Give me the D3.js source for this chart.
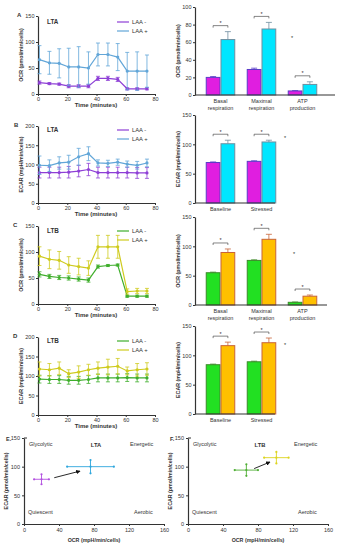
<!DOCTYPE html>
<html>
<head>
<meta charset="utf-8">
<script src="https://cdnjs.cloudflare.com/ajax/libs/d3/7.8.5/d3.min.js"></script>
<style>
  body { margin: 0; background: #fff; }
  svg { display: block; font-family: "Liberation Sans", Arial, sans-serif; }
  .tick text { fill: #333; }
</style>
</head>
<body>
<div id="chart"></div>
<script>
/* ---- data ---- */
// time course (minutes)
var times = [1, 7.8, 14.5, 21, 27.8, 34.5, 41, 47.8, 54.5, 61, 67.8, 74.5];
var timeTicks = [0, 20, 40, 60, 80];
var seriesNames = ["LAA -", "LAA +"];

// A: OCR, LTA
var ocrLtaMinus    = [22, 20, 19, 15, 15, 15, 30, 30, 28, 10, 10, 10];
var ocrLtaMinusErr = [3, 2, 2, 3, 3, 3, 4, 4, 4, 2, 2, 2];
var ocrLtaPlus     = [66, 60, 59, 52, 52, 50, 76, 76, 71, 44, 44, 44];
var ocrLtaPlusErr  = [27, 22, 28, 36, 39, 31, 22, 22, 26, 36, 37, 31];

// B: ECAR, LTA
var ecarLtaMinus    = [79, 79, 79, 80, 83, 87, 79, 79, 79, 79, 78, 78];
var ecarLtaMinusErr = [14, 14, 14, 15, 15, 16, 14, 14, 14, 14, 14, 14];
var ecarLtaPlus     = [98, 97, 104, 106, 120, 128, 104, 103, 106, 101, 98, 104];
var ecarLtaPlusErr  = [24, 15, 16, 18, 22, 18, 8, 8, 8, 8, 10, 10];

// C: OCR, LTB
var ocrLtbMinus    = [57, 53, 51, 50, 48, 46, 72, 74, 75, 15, 15, 15];
var ocrLtbMinusErr = [5, 4, 4, 4, 4, 4, 3, 2, 2, 2, 2, 2];
var ocrLtbPlus     = [92, 86, 84, 75, 72, 69, 110, 110, 110, 24, 25, 25];
var ocrLtbPlusErr  = [18, 18, 17, 16, 16, 14, 22, 22, 22, 5, 5, 5];

// D: ECAR, LTB
var ecarLtbMinus    = [92, 91, 91, 89, 89, 91, 95, 95, 95, 96, 95, 95];
var ecarLtbMinusErr = [10, 10, 10, 10, 10, 10, 10, 10, 10, 10, 10, 10];
var ecarLtbPlus     = [118, 116, 120, 106, 110, 116, 120, 123, 125, 113, 116, 118];
var ecarLtbPlusErr  = [18, 16, 16, 10, 16, 14, 16, 20, 20, 10, 16, 16];

// bar summaries
var ocrCats  = ["Basal respiration", "Maximal respiration", "ATP production"];
var ecarCats = ["Baseline", "Stressed"];
var barOcrLtaMinus = [20, 29, 4.6],  barOcrLtaMinusErr = [1, 1.5, 0.5];
var barOcrLtaPlus  = [63, 75, 12],   barOcrLtaPlusErr  = [9, 7.5, 3];
var barEcarLtaMinus = [69, 71],      barEcarLtaMinusErr = [1, 1];
var barEcarLtaPlus  = [101, 104],    barEcarLtaPlusErr  = [6, 3];
var barOcrLtbMinus = [55, 76, 4.6],  barOcrLtbMinusErr = [1, 1, 0.5];
var barOcrLtbPlus  = [89.5, 112, 15], barOcrLtbPlusErr = [6, 8.5, 2];
var barEcarLtbMinus = [84, 89],      barEcarLtbMinusErr = [1, 1];
var barEcarLtbPlus  = [116.5, 121.5], barEcarLtbPlusErr = [6, 8];

// energy maps (LAA -, LAA +)
var energyLtaOcr = [20, 76],     energyLtaOcrErr = [8.5, 26.7];
var energyLtaEcar = [78, 100],   energyLtaEcarErr = [8.7, 11.6];
var energyLtbOcr = [66.7, 101],  energyLtbOcrErr = [13.3, 14];
var energyLtbEcar = [94, 115.7], energyLtbEcarErr = [10, 10];
var mapOcrTicks = [0, 40, 80, 120, 160];
var mapEcarTicks = [0, 50, 100, 150];
var quadrants = ["Glycolytic", "Energetic", "Quiescent", "Aerobic"];

/* ---- colours ---- */
var ltaLine = ["#8e3fd6", "#62a6d8"];
var ltbLine = ["#3fae2c", "#cfcb1e"];
var ltaBar = [{ fill: "#e01ee0", stroke: "#5a3cc8" }, { fill: "#00e6ff", stroke: "#6f8ea0" }];
var ltbBar = [{ fill: "#22e022", stroke: "#3c8a2a" }, { fill: "#ffc000", stroke: "#c8643a" }];
var ltaMap = ["#b24fe0", "#2ea6dc"];
var ltbMap = ["#4fae34", "#dcd41e"];
var ink = "#333";

var svg = d3.select("#chart").append("svg")
    .attr("width", 339)
    .attr("height", 550);

svg.append("defs").append("marker")
    .attr("id", "arrow")
    .attr("viewBox", "0 0 10 10")
    .attr("refX", 8).attr("refY", 5)
    .attr("markerWidth", 5).attr("markerHeight", 5)
    .attr("orient", "auto")
  .append("path")
    .attr("d", "M0,0L10,5L0,10z")
    .attr("fill", "#111");

// style an axis group the same way everywhere
function styleAxis(g) {
    g.select(".domain").attr("stroke", ink).attr("stroke-width", 1.2);
    g.selectAll(".tick line").attr("stroke", ink).attr("stroke-width", 1);
    g.selectAll(".tick text").style("font-size", "5.5px");
}

function label(x, y, txt, size, bold, anchor, rot) {
    var t = svg.append("text")
        .attr("x", x).attr("y", y)
        .attr("fill", ink)
        .attr("text-anchor", anchor || "start")
        .style("font-size", size + "px")
        .style("font-weight", bold ? "bold" : "normal")
        .text(txt);
    if (rot) t.attr("transform", "rotate(-90," + x + "," + y + ")");
    return t;
}

/* TIME PANEL - line plot with error bars ------------------------------ */
function timePanel(o) {
    var x = d3.scaleLinear().domain([0, 80]).range([38, 155]);
    var y = d3.scaleLinear().domain([0, o.yMax]).range([o.bottom, o.top]);

    svg.append("g")
        .attr("transform", "translate(0," + o.bottom + ")")
        .call(d3.axisBottom(x).tickValues(timeTicks).tickSize(2).tickSizeOuter(0).tickPadding(1.5))
        .call(styleAxis);
    svg.append("g")
        .attr("transform", "translate(38,0)")
        .call(d3.axisLeft(y).tickValues(o.yTicks).tickSize(2).tickSizeOuter(0).tickPadding(1.5))
        .call(styleAxis);

    var line = d3.line()
        .x(function(d) { return x(d.t); })
        .y(function(d) { return y(d.v); });

    o.series.forEach(function(s, i) {
        var pts = times.map(function(t, k) { return { t: t, v: s.values[k], e: s.errs[k] }; });
        var g = svg.append("g").attr("stroke", o.colors[i]).attr("fill", o.colors[i]);
        g.selectAll(".err").data(pts).enter().append("path")
            .attr("d", function(d) {
                var cx = x(d.t), y1 = y(d.v + d.e), y0 = y(d.v - d.e);
                return "M" + cx + "," + y0 + "V" + y1 +
                       "M" + (cx - 2) + "," + y1 + "H" + (cx + 2) +
                       "M" + (cx - 2) + "," + y0 + "H" + (cx + 2);
            })
            .attr("fill", "none")
            .attr("stroke-width", 0.8);
        g.append("path").datum(pts)
            .attr("d", line)
            .attr("fill", "none")
            .attr("stroke-width", 1.2);
        g.selectAll("circle").data(pts).enter().append("circle")
            .attr("cx", function(d) { return x(d.t); })
            .attr("cy", function(d) { return y(d.v); })
            .attr("r", 1.6)
            .attr("stroke", "none");
    });

    // legend
    seriesNames.forEach(function(n, i) {
        var ly = o.legendY + i * 9;
        svg.append("line")
            .attr("x1", 117).attr("x2", 129)
            .attr("y1", ly - 2).attr("y2", ly - 2)
            .attr("stroke", o.colors[i]).attr("stroke-width", 1.2);
        label(132, ly, n, 5.8, false);
    });

    label(o.letterX, o.top + 1, o.letter, 6, true);
    label(47, o.legendY, o.title, 6.3, true);
    label(96, o.bottom + 13, "Time (minutes)", 6, true, "middle");
    label(23, (o.top + o.bottom) / 2, o.ylabel, 5.3, true, "middle", true);
}

/* BAR PANEL - grouped bars with brackets ------------------------------ */
function barPanel(o) {
    var x = d3.scaleBand().domain(o.cats)
        .range([200, 200 + 41 * o.cats.length])
        .paddingInner(0.28).paddingOuter(0.14);
    var xs = d3.scaleBand().domain([0, 1]).range([0, x.bandwidth()]);
    var y = d3.scaleLinear().domain([0, o.yMax]).range([o.bottom, o.top]);

    svg.append("g")
        .attr("transform", "translate(195,0)")
        .call(d3.axisLeft(y).tickValues(o.yTicks).tickSize(2).tickSizeOuter(0).tickPadding(1.5))
        .call(styleAxis);

    o.series.forEach(function(s, i) {
        var rows = o.cats.map(function(c, k) { return { c: c, v: s.values[k], e: s.errs[k] }; });
        var g = svg.append("g");
        g.selectAll("rect").data(rows).enter().append("rect")
            .attr("x", function(d) { return x(d.c) + xs(i) + 0.5; })
            .attr("y", function(d) { return y(d.v); })
            .attr("width", xs.bandwidth() - 1)
            .attr("height", function(d) { return o.bottom - y(d.v); })
            .attr("fill", o.colors[i].fill)
            .attr("stroke", o.colors[i].stroke)
            .attr("stroke-width", 1);
        g.selectAll(".err").data(rows).enter().append("path")
            .attr("d", function(d) {
                var cx = x(d.c) + xs(i) + xs.bandwidth() / 2, yt = y(d.v + d.e);
                return "M" + cx + "," + y(d.v) + "V" + yt + "M" + (cx - 3) + "," + yt + "H" + (cx + 3);
            })
            .attr("fill", "none")
            .attr("stroke", o.colors[i].stroke)
            .attr("stroke-width", 0.8);
    });

    // significance brackets
    o.cats.forEach(function(c, k) {
        var top = d3.max(o.series, function(s) { return s.values[k] + s.errs[k]; });
        var by = y(top) - 6;
        var x0 = x(c) + xs.bandwidth() / 2, x1 = x(c) + xs.bandwidth() * 1.5;
        svg.append("path")
            .attr("d", "M" + x0 + "," + (by + 2) + "V" + by + "H" + x1 + "V" + (by + 2))
            .attr("fill", "none").attr("stroke", ink).attr("stroke-width", 0.6);
        label((x0 + x1) / 2, by - 0.5, "*", 5.5, false, "middle");
    });

    // x axis line and category labels
    svg.append("line")
        .attr("x1", 195).attr("x2", o.axisEnd)
        .attr("y1", o.bottom).attr("y2", o.bottom)
        .attr("stroke", ink).attr("stroke-width", 1.2);
    o.cats.forEach(function(c) {
        var parts = c.split(" ");
        parts.forEach(function(p, j) {
            label(x(c) + x.bandwidth() / 2, o.bottom + 8 + j * 7, p, 5.5, false, "middle");
        });
    });

    label(o.star[0], o.star[1], "*", 5.5, false, "middle");
    label(180, (o.top + o.bottom) / 2, o.ylabel, 5.3, true, "middle", true);
}

/* ENERGY MAP - OCR vs ECAR crosses ------------------------------------ */
function mapPanel(o) {
    var x = d3.scaleLinear().domain([0, 160]).range([o.left, o.left + 140]);
    var y = d3.scaleLinear().domain([0, 150]).range([524, 438]);

    svg.append("g")
        .attr("transform", "translate(0,524)")
        .call(d3.axisBottom(x).tickValues(mapOcrTicks).tickSize(2).tickSizeOuter(0).tickPadding(2))
        .call(styleAxis);
    svg.append("g")
        .attr("transform", "translate(" + o.left + ",0)")
        .call(d3.axisLeft(y).tickValues(mapEcarTicks).tickSize(2).tickSizeOuter(0).tickPadding(2))
        .call(styleAxis);
    // top cap of the y axis
    svg.append("line")
        .attr("x1", o.left).attr("x2", o.left + 3)
        .attr("y1", y(150)).attr("y2", y(150))
        .attr("stroke", ink).attr("stroke-width", 1);

    o.ocr.forEach(function(v, i) {
        var cx = x(v), cy = y(o.ecar[i]);
        var xl = x(v - o.ocrErr[i]), xr = x(v + o.ocrErr[i]);
        var yt = y(o.ecar[i] + o.ecarErr[i]), yb = y(o.ecar[i] - o.ecarErr[i]);
        var g = svg.append("g").attr("stroke", o.colors[i]).attr("fill", o.colors[i]);
        g.append("path")
            .attr("d", "M" + xl + "," + cy + "H" + xr + "M" + cx + "," + yt + "V" + yb)
            .attr("fill", "none").attr("stroke-width", 0.9);
        [[xl, cy], [xr, cy], [cx, yt], [cx, yb], [cx, cy]].forEach(function(p) {
            g.append("circle").attr("cx", p[0]).attr("cy", p[1]).attr("r", 1.1).attr("stroke", "none");
        });
    });

    // arrow from LAA - toward LAA +
    var lerp = function(a, b, t) { return a + (b - a) * t; };
    var a0 = [lerp(o.ocr[0], o.ocr[1], 0.26), lerp(o.ecar[0], o.ecar[1], 0.26) - 3];
    var a1 = [lerp(o.ocr[0], o.ocr[1], 0.78), lerp(o.ecar[0], o.ecar[1], 0.78) - 3];
    svg.append("line")
        .attr("x1", x(a0[0])).attr("y1", y(a0[1]))
        .attr("x2", x(a1[0])).attr("y2", y(a1[1]))
        .attr("stroke", "#111").attr("stroke-width", 0.9)
        .attr("marker-end", "url(#arrow)");

    label(o.left + 5, 446, quadrants[0], 5.5, false);
    label(o.left + 106, 446, quadrants[1], 5.5, false);
    label(o.left + 4, 514, quadrants[2], 5.5, false);
    label(o.left + 110, 514, quadrants[3], 5.5, false);
    label(o.left + 72, 447, o.title, 5.8, true, "middle");
    label(o.left - 18, 441, o.letter, 5.5, true);
    label(o.left + 70, 542, "OCR (mpH/min/cells)", 5.3, true, "middle");
    label(o.left - 16, 481, "ECAR (pmol/min/cells)", 5.3, true, "middle", true);
}

/* ---- build the figure ---- */
timePanel({ letter: "A", letterX: 17, title: "LTA", top: 16, bottom: 94, yMax: 150, yTicks: [0, 50, 100, 150],
    legendY: 24, colors: ltaLine, ylabel: "OCR (pmol/min/cells)",
    series: [{ values: ocrLtaMinus, errs: ocrLtaMinusErr }, { values: ocrLtaPlus, errs: ocrLtaPlusErr }] });
timePanel({ letter: "B", letterX: 14, title: "LTA", top: 126, bottom: 203, yMax: 200, yTicks: [0, 50, 100, 150, 200],
    legendY: 132, colors: ltaLine, ylabel: "ECAR (mpH/min/cells)",
    series: [{ values: ecarLtaMinus, errs: ecarLtaMinusErr }, { values: ecarLtaPlus, errs: ecarLtaPlusErr }] });
timePanel({ letter: "C", letterX: 13, title: "LTB", top: 226, bottom: 304, yMax: 150, yTicks: [0, 50, 100, 150],
    legendY: 233, colors: ltbLine, ylabel: "OCR (pmol/min/cells)",
    series: [{ values: ocrLtbMinus, errs: ocrLtbMinusErr }, { values: ocrLtbPlus, errs: ocrLtbPlusErr }] });
timePanel({ letter: "D", letterX: 13, title: "LTB", top: 337, bottom: 415, yMax: 200, yTicks: [0, 50, 100, 150, 200],
    legendY: 343, colors: ltbLine, ylabel: "ECAR (mpH/min/cells)",
    series: [{ values: ecarLtbMinus, errs: ecarLtbMinusErr }, { values: ecarLtbPlus, errs: ecarLtbPlusErr }] });

barPanel({ cats: ocrCats, top: 7, bottom: 95, yMax: 100, yTicks: [0, 20, 40, 60, 80, 100], axisEnd: 335,
    colors: ltaBar, ylabel: "OCR (pmol/min/cells)", star: [292, 40],
    series: [{ values: barOcrLtaMinus, errs: barOcrLtaMinusErr }, { values: barOcrLtaPlus, errs: barOcrLtaPlusErr }] });
barPanel({ cats: ecarCats, top: 115, bottom: 203, yMax: 150, yTicks: [0, 50, 100, 150], axisEnd: 275,
    colors: ltaBar, ylabel: "ECAR (mpH/min/cells)", star: [285, 140],
    series: [{ values: barEcarLtaMinus, errs: barEcarLtaMinusErr }, { values: barEcarLtaPlus, errs: barEcarLtaPlusErr }] });
barPanel({ cats: ocrCats, top: 217, bottom: 305, yMax: 150, yTicks: [0, 50, 100, 150], axisEnd: 327,
    colors: ltbBar, ylabel: "OCR (pmol/min/cells)", star: [294, 256],
    series: [{ values: barOcrLtbMinus, errs: barOcrLtbMinusErr }, { values: barOcrLtbPlus, errs: barOcrLtbPlusErr }] });
barPanel({ cats: ecarCats, top: 326, bottom: 414, yMax: 150, yTicks: [0, 50, 100, 150], axisEnd: 275,
    colors: ltbBar, ylabel: "ECAR (mpH/min/cells)", star: [285, 347],
    series: [{ values: barEcarLtbMinus, errs: barEcarLtbMinusErr }, { values: barEcarLtbPlus, errs: barEcarLtbPlusErr }] });

mapPanel({ left: 24, letter: "E.", title: "LTA", colors: ltaMap,
    ocr: energyLtaOcr, ocrErr: energyLtaOcrErr, ecar: energyLtaEcar, ecarErr: energyLtaEcarErr });
mapPanel({ left: 188, letter: "F.", title: "LTB", colors: ltbMap,
    ocr: energyLtbOcr, ocrErr: energyLtbOcrErr, ecar: energyLtbEcar, ecarErr: energyLtbEcarErr });
</script>
</body>
</html>
